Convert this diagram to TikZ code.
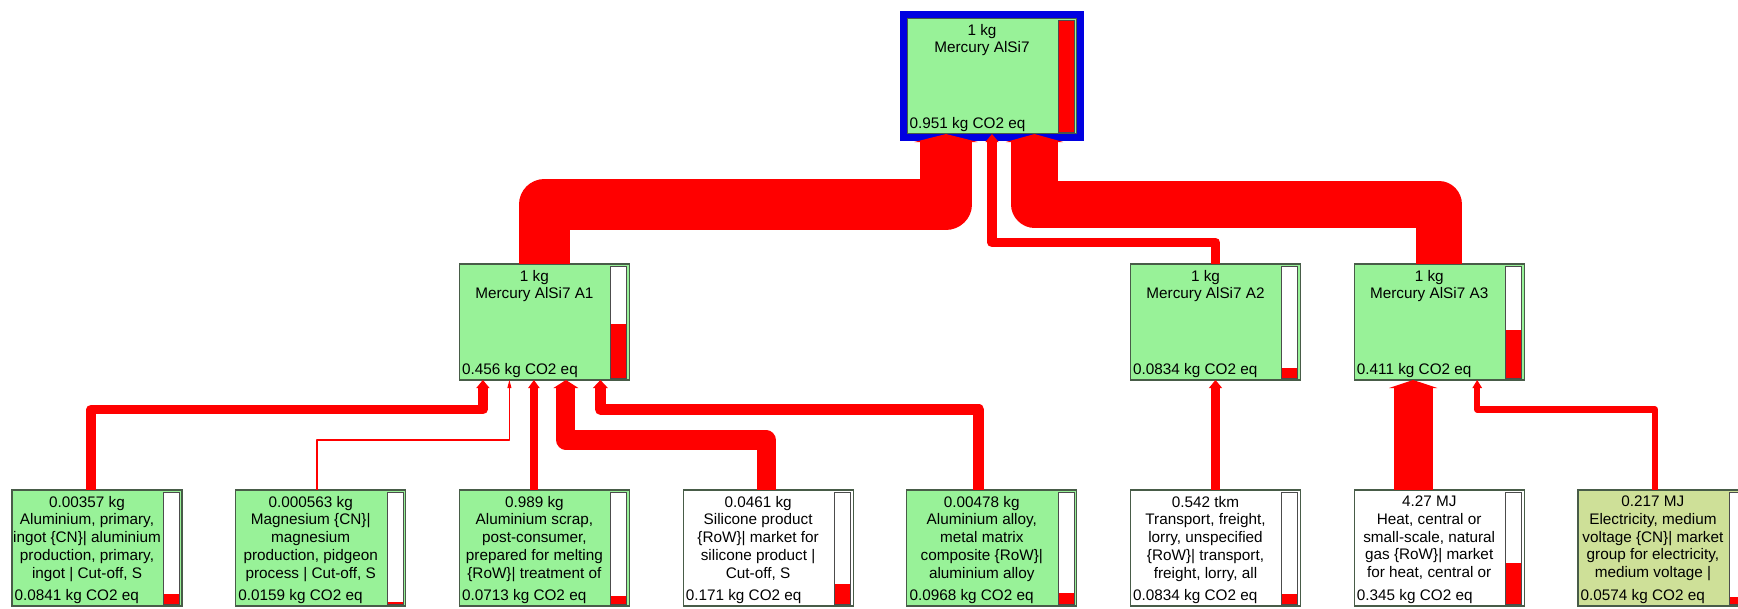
\documentclass[tikz,border=0pt]{standalone}
\usepackage{fontspec}
\setmainfont{Liberation Sans}
\usetikzlibrary{arrows.meta, positioning}

\definecolor{procgreen}{RGB}{152,242,152}
\definecolor{elecgreen}{RGB}{206,224,152}
\definecolor{boxline}{RGB}{72,92,72}
\definecolor{frameblue}{RGB}{0,0,225}

% process box: name, placement, amount and process, score
\newcommand{\impactbox}[4]{%
  \node[procbox, #2] (#1) {};
  \node[proctext] (#1-text) at ([xshift=-10pt, yshift=-6pt]#1.north) {#3};
  \node[scoretext] (#1-score) at ([xshift=2.5pt, yshift=6pt]#1.south west) {#4 kg CO2 eq};
  \node[scorebar] (#1-bar) at ([xshift=-3pt, yshift=-2pt]#1.north east) {};
  \fill[red] (#1-bar.south west) rectangle ([yshift={#4/0.951*112pt}]#1-bar.south east);
  \draw[black!70] (#1-bar.south west) rectangle (#1-bar.north east);
}

\begin{document}
\begin{tikzpicture}[
    x=1pt, y=-1pt,
    node distance=110pt and 53.7pt,
    procbox/.style={draw=boxline, line width=1.2pt, fill=procgreen, minimum width=170pt, minimum height=116pt, inner sep=0pt, outer sep=0pt},
    proctext/.style={anchor=north, align=center, inner sep=0pt, font=\fontsize{15.3}{17.7}\selectfont},
    scoretext/.style={anchor=base west, inner sep=0pt, font=\fontsize{15.3}{17.7}\selectfont},
    scorebar/.style={anchor=north east, draw=black!70, fill=white, minimum width=16pt, minimum height=112pt, inner sep=0pt, outer sep=0pt},
    topframe/.style={draw=frameblue, line width=7pt},
    co2flow/.style={draw=red, line width={#1*112pt}, line join=round, -{Triangle[length=8pt, width=2pt 1.2, line width=0pt]}}
]
\useasboundingbox (0,0) rectangle (1738,608);
\clip (0,0) rectangle (1738,608);

% Inputs
\impactbox{alprimary}{anchor=north west, at={(12,490)}}{0.00357 kg\\Aluminium, primary,\\ingot \{CN\}| aluminium\\production, primary,\\ingot | Cut-off, S}{0.0841}
\impactbox{magnesium}{right=of alprimary}{0.000563 kg\\Magnesium \{CN\}|\\magnesium\\production, pidgeon\\process | Cut-off, S}{0.0159}
\impactbox{alscrap}{right=of magnesium}{0.989 kg\\Aluminium scrap,\\post-consumer,\\prepared for melting\\\{RoW\}| treatment of}{0.0713}
\impactbox{silicone}{right=of alscrap, fill=white}{0.0461 kg\\Silicone product\\\{RoW\}| market for\\silicone product |\\Cut-off, S}{0.171}
\impactbox{alalloy}{right=of silicone}{0.00478 kg\\Aluminium alloy,\\metal matrix\\composite \{RoW\}|\\aluminium alloy}{0.0968}
\impactbox{transport}{right=of alalloy, fill=white}{0.542 tkm\\Transport, freight,\\lorry, unspecified\\\{RoW\}| transport,\\freight, lorry, all}{0.0834}
\impactbox{heat}{right=of transport, fill=white}{4.27 MJ\\Heat, central or\\small-scale, natural\\gas \{RoW\}| market\\for heat, central or}{0.345}
\impactbox{electricity}{right=of heat, fill=elecgreen}{0.217 MJ\\Electricity, medium\\voltage \{CN\}| market\\group for electricity,\\medium voltage |}{0.0574}

% Parts
\impactbox{partA1}{above=of alscrap}{1 kg\\Mercury AlSi7 A1}{0.456}
\impactbox{partA2}{above=of transport}{1 kg\\Mercury AlSi7 A2}{0.0834}
\impactbox{partA3}{above=of heat}{1 kg\\Mercury AlSi7 A3}{0.411}

% Product
\impactbox{mercury}{anchor=north west, at={(907,18)}}{1 kg\\Mercury AlSi7}{0.951}
\draw[topframe] ([shift={(-3.5pt,3.5pt)}]mercury.north west) rectangle ([shift={(3.5pt,-3.5pt)}]mercury.south east);

% Flows
\draw[co2flow=0.456] (partA1.north) |- ([xshift=-46pt, yshift=-70.5pt]mercury.south) -- ([xshift=-46pt]mercury.south);
\draw[co2flow=0.0834] (partA2.north) |- ([yshift=-108.5pt]mercury.south) -- (mercury.south);
\draw[co2flow=0.411] (partA3.north) |- ([xshift=42.5pt, yshift=-70.5pt]mercury.south) -- ([xshift=42.5pt]mercury.south);

\draw[co2flow=0.0841] ([xshift=-6pt]alprimary.north) |- ([xshift=-61.5pt, yshift=-29.5pt]partA1.south) -- ([xshift=-61.5pt]partA1.south);
\draw[co2flow=0.0159] ([xshift=-4pt]magnesium.north) |- ([xshift=-35pt, yshift=-60pt]partA1.south) -- ([xshift=-35pt]partA1.south);
\draw[co2flow=0.0713] ([xshift=-10.5pt]alscrap.north) -- ([xshift=-10.5pt]partA1.south);
\draw[co2flow=0.171] ([xshift=-2pt]silicone.north) |- ([xshift=21.5pt, yshift=-60pt]partA1.south) -- ([xshift=21.5pt]partA1.south);
\draw[co2flow=0.0968] ([xshift=-13pt]alalloy.north) |- ([xshift=56pt, yshift=-29.5pt]partA1.south) -- ([xshift=56pt]partA1.south);

\draw[co2flow=0.0834] (transport.north) -- (partA2.south);
\draw[co2flow=0.345] ([xshift=-26pt]heat.north) -- ([xshift=-26pt]partA3.south);
\draw[co2flow=0.0574] ([xshift=-8pt]electricity.north) |- ([xshift=38pt, yshift=-29.5pt]partA3.south) -- ([xshift=38pt]partA3.south);

\end{tikzpicture}
\end{document}
